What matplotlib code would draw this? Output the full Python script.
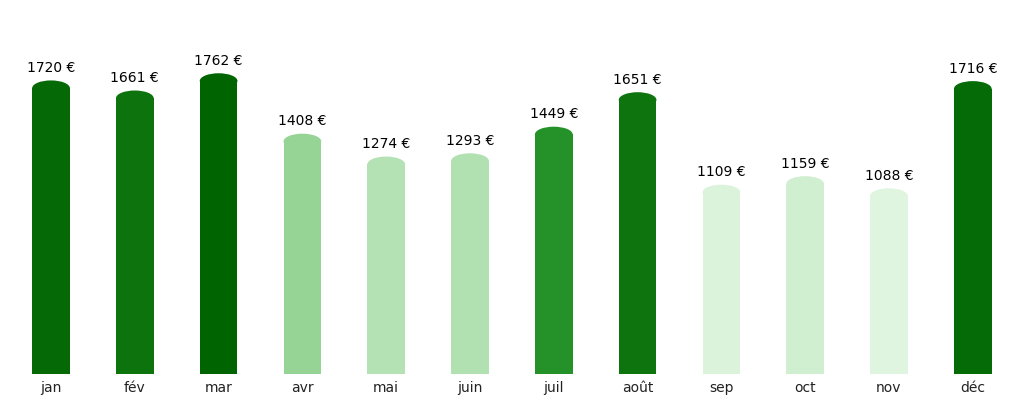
import numpy as np
import matplotlib
matplotlib.use("Agg")
import matplotlib.pyplot as plt
from matplotlib.colors import LinearSegmentedColormap, Normalize
from matplotlib.patches import Rectangle, Ellipse

# %%
months = ["jan", "fév", "mar", "avr", "mai", "juin", "juil", "août", "sep", "oct", "nov", "déc"]
amounts = [1720, 1661, 1762, 1408, 1274, 1293, 1449, 1651, 1109, 1159, 1088, 1716]

# %%
# colour: light greens below the mean, dark greens above it
mean_val = np.mean(amounts)
low_cmap = LinearSegmentedColormap.from_list("low", ["#e0f5e0", "#8fd18f"])
high_cmap = LinearSegmentedColormap.from_list("high", ["#26932a", "#006400"])
low_norm = Normalize(min(amounts), mean_val)
high_norm = Normalize(mean_val, max(amounts))


def bar_colour(v):
    if v < mean_val:
        return low_cmap(low_norm(v))
    return high_cmap(high_norm(v))


# %%
fig = plt.figure(figsize=(10.24, 4.03), dpi=100)
ax = fig.add_axes([0.0089, 0.072, 0.982, 0.847])

width = 0.45
cap = 45  # half height of the rounded top, in euros

x = np.arange(len(months))
for xi, v in zip(x, amounts):
    c = bar_colour(v)
    ax.add_patch(Rectangle((xi - width / 2, 0), width, v - cap, facecolor=c, edgecolor="none"))
    ax.add_patch(Ellipse((xi, v - cap), width, 2 * cap, facecolor=c, edgecolor="none"))
    ax.annotate(f"{v} €", (xi, v), xytext=(0, 4), textcoords="offset points",
                ha="center", va="bottom", fontsize=10, color="black")

ax.set_xlim(-0.5, len(months) - 0.5)
ax.set_ylim(0, 2000)
ax.set_xticks(x)
ax.set_xticklabels(months, fontsize=10, color="#222222")
ax.set_yticks([])
ax.tick_params(axis="x", length=0, pad=5)
for s in ax.spines.values():
    s.set_visible(False)

fig.savefig("out.png", dpi=100)
